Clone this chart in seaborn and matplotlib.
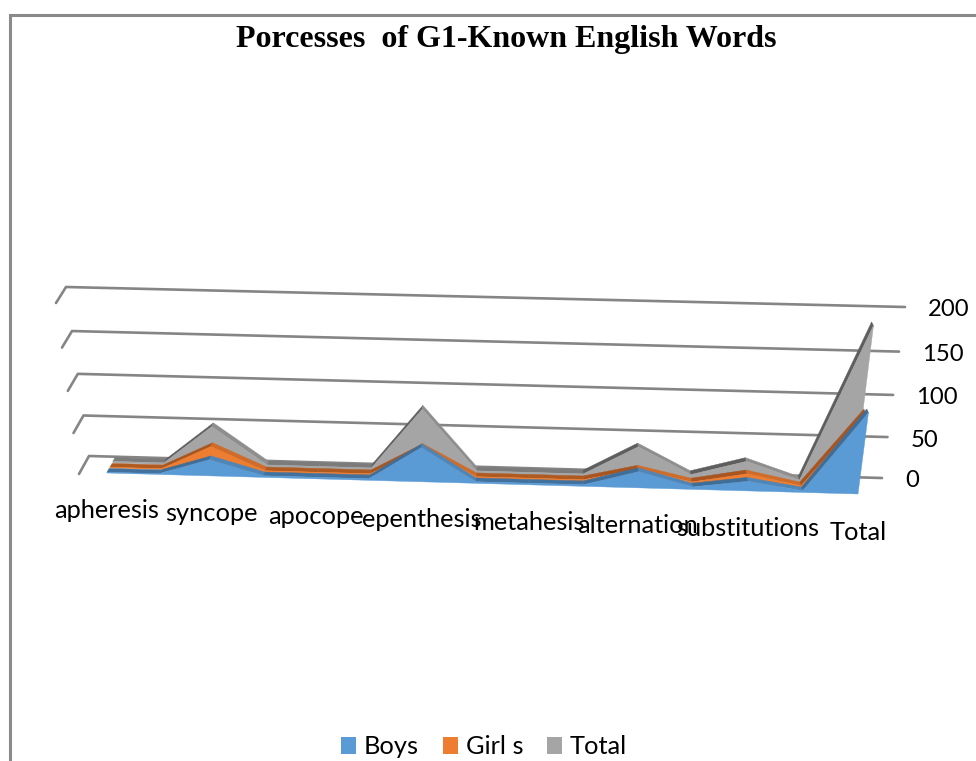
import numpy as np
import pandas as pd
import matplotlib
matplotlib.use("Agg")
import matplotlib.pyplot as plt
from matplotlib.patches import Patch, Polygon
import seaborn as sns

# Survey results: every second category carries a printed name
labels = ["apheresis", "", "syncope", "", "apocope", "", "epenthesis", "", "metahesis",
          "", "alternation", "", "substitutions", "", "Total"]
boys = [1, 1, 20, 2, 2, 2, 42, 2, 2, 2, 20, 3, 12, 2, 98]
girls = [1, 1, 30, 2, 2, 2, 36, 2, 2, 2, 17, 3, 15, 2, 92]
total = [2, 2, 48, 3, 3, 3, 76, 3, 3, 3, 38, 6, 24, 3, 186]
series_names = ["Boys", "Girl s", "Total"]
y_ticks = [0, 50, 100, 150, 200]
title = "Porcesses  of G1-Known English Words"

sns.set_theme(style="white")
plt.rcParams["font.family"] = ["Lato", "DejaVu Sans"]

face_colors = sns.color_palette(["#5B9BD5", "#ED7D31", "#A5A5A5"])
rise_colors = ["#3F6E98", "#A85520", "#5E5E5E"]
flat_colors = ["#41719C", "#AE5A21", "#7B7B7B"]
fall_colors = ["#4F86B8", "#D06C2A", "#8E8E8E"]
grid_color = "#858585"


def homography(corners):
    """Map the unit square (u, w) on to four corners: (0,0), (1,0), (1,1), (0,1)."""
    src = [(0, 0), (1, 0), (1, 1), (0, 1)]
    a, b = [], []
    for (u, w), (x, y) in zip(src, corners):
        a.append([u, w, 1, 0, 0, 0, -u * x, -w * x])
        a.append([0, 0, 0, u, w, 1, -u * y, -w * y])
        b += [x, y]
    return np.append(np.linalg.solve(np.array(a, float), np.array(b, float)), 1).reshape(3, 3)


def apply_h(h, u, w):
    p = h @ np.array([u, w, 1.0])
    return p[:2] / p[2]


# Perspective frame: corners of the data plane nearest the viewer and of the plane two rows back
near_plane = np.array([(107, 473), (858, 494), (880, 323), (84, 302)], float)
far_plane = np.array([(113, 463), (854, 484), (875, 313), (90, 292)], float)
wall_plane = np.array([(89, 456), (882, 478), (905, 307), (66, 287)], float)
side_plane = np.array([(79, 474), (858, 494), (880, 323), (56, 303)], float)
foreshortening = 0.03  # categories bunch up slightly towards the far left
last = len(labels) - 1
v_max = max(y_ticks)


def project(i, v, depth):
    h = homography(near_plane + (far_plane - near_plane) * depth / 2)
    u = i / last
    return apply_h(h, u / (1 + foreshortening * (1 - u)), v / v_max)


fig = plt.figure(figsize=(9.76, 7.61), dpi=100, facecolor="white")
ax = fig.add_axes([0, 0, 1, 1])
ax.set_xlim(0, 976)
ax.set_ylim(761, 0)
ax.axis("off")

# Outer chart frame
ax.plot([9.5, 9.5, 976], [761, 14.5, 14.5], color="#8A8A8A", lw=2.2, solid_joinstyle="miter")

ax.text(506, 40, title, family="Liberation Serif", weight="bold", fontsize=23,
        ha="center", va="center", color="black")

# Back-wall gridlines with their short stubs along the side wall
wall_h, side_h = homography(wall_plane), homography(side_plane)
rows = []
for tick in y_ticks:
    stub = apply_h(side_h, 0, tick / v_max)
    start = apply_h(wall_h, 0, tick / v_max)
    end = apply_h(wall_h, 1, tick / v_max)
    for step, pt in enumerate((stub, start, end)):
        rows.append({"tick": tick, "step": step, "x": pt[0], "y": pt[1]})
    ax.text(end[0] + 23, end[1] + 3, str(tick), fontsize=17.2, ha="left", va="center", color="black")
grid = pd.DataFrame(rows)
sns.lineplot(data=grid, x="x", y="y", units="tick", estimator=None, sort=False,
             color=grid_color, lw=1.9, ax=ax, legend=False, zorder=2)
ax.set_xlabel("")
ax.set_ylabel("")

# Area rows, drawn from the back forwards
rows_data = [boys, girls, total]
layer = 3
for row in (2, 1, 0):
    values = rows_data[row]
    face_depth, back_depth = float(row), row + 0.75
    for i in range(last):
        a, b = values[i], values[i + 1]
        shade = rise_colors[row] if b > a else fall_colors[row] if b < a else flat_colors[row]
        quad = [project(i, a, face_depth), project(i + 1, b, face_depth),
                project(i + 1, b, back_depth), project(i, a, back_depth)]
        ax.add_patch(Polygon(quad, closed=True, facecolor=shade, edgecolor=shade, lw=0.3, zorder=layer))
    outline = [project(i, values[i], face_depth) for i in range(last + 1)]
    outline += [project(last, 0, face_depth), project(0, 0, face_depth)]
    ax.add_patch(Polygon(outline, closed=True, facecolor=face_colors[row],
                         edgecolor=face_colors[row], lw=0.3, zorder=layer + 1))
    layer += 2

# Category names sit just under the front baseline
for i, name in enumerate(labels):
    if name:
        x, y = project(i, 0, 0)
        ax.text(x, y + 38, name, fontsize=18.3, ha="center", va="center", color="black", zorder=20)

handles = [Patch(facecolor=c, edgecolor="none") for c in face_colors]
ax.legend(handles, series_names, loc="center", bbox_to_anchor=(484 / 976, 1 - 747 / 761), ncol=3,
          frameon=False, fontsize=18.3, handlelength=0.6, handleheight=0.6,
          handletextpad=0.3, columnspacing=0.95, labelcolor="black")

fig.savefig("out.png", dpi=100)
